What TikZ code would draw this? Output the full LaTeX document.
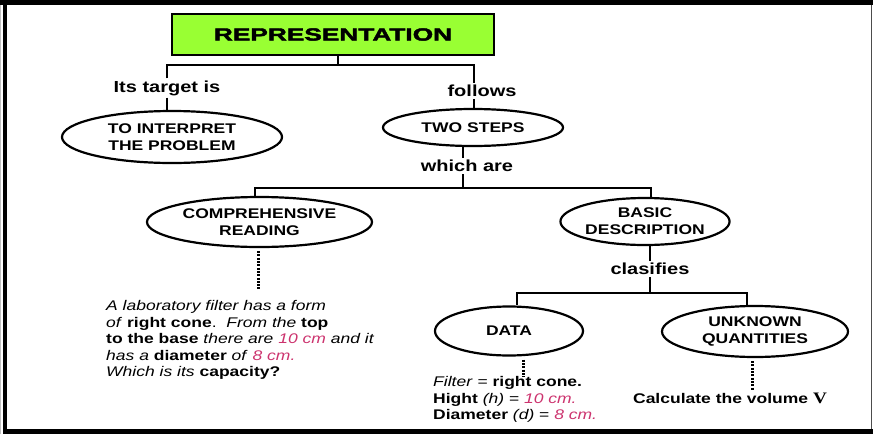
\documentclass[tikz,border=0pt]{standalone}
\usepackage{fontspec}
\setmainfont{Liberation Sans}[FakeStretch=1.25]
\newfontfamily\titlefont{Liberation Sans}[FakeStretch=1.5, FakeBold=2.5]
\newfontfamily\vfont{Liberation Serif}[FakeStretch=1.2]
\usetikzlibrary{shapes.geometric}
\definecolor{repgreen}{RGB}{153,255,51}
\definecolor{mag}{RGB}{204,51,110}
\begin{document}
\begin{tikzpicture}[x=1pt,y=-1pt,
  conn/.style={line width=2pt, black},
  dots/.style={line width=3pt, dash pattern=on 2pt off 1.3pt, black},
  ell/.style={ellipse, draw, line width=2.2pt, inner sep=0pt, align=center,
    font=\fontsize{14}{17}\selectfont\bfseries},
  lbl/.style={inner sep=2pt, font=\fontsize{16}{18}\selectfont\bfseries},
  body/.style={inner sep=0pt, align=left, anchor=west, font=\fontsize{14}{16.5}\selectfont},
  titlebox/.style={draw, line width=2pt, fill=repgreen, inner sep=0pt,
    font=\fontsize{17.5}{20}\selectfont\titlefont\bfseries}
]
\useasboundingbox (0,0) rectangle (873,434);
% frame
\draw[line width=1pt, black!70] (871.5,0) -- (871.5,434);
\draw[line width=0.8pt, black!25] (0.5,0) -- (0.5,434);
\draw[line width=4.5pt] (5,0) -- (5,434);
\draw[line width=5pt] (0,2.5) -- (873,2.5);
\draw[line width=5pt] (5,431.5) -- (873,431.5);

% nodes
\node[titlebox, minimum width=322pt, minimum height=41pt] (rep) at (333,34.5) {REPRESENTATION};
\node[lbl] (tgt) at (167,88) {Its target is};
\node[lbl] (fol) at (482,91) {follows};
\node[ell, minimum width=220pt, minimum height=52pt] (interp) at (172,137) {TO INTERPRET\\THE PROBLEM};
\node[ell, minimum width=180pt, minimum height=37pt] (two) at (473,127.5) {TWO STEPS};
\node[lbl] (wa) at (467,166) {which are};
\node[ell, minimum width=225pt, minimum height=50pt] (comp) at (259.5,222) {COMPREHENSIVE\\READING};
\node[ell, minimum width=166pt, minimum height=47pt] (basic) at (645,221.5) {BASIC\\DESCRIPTION};
\node[lbl] (cl) at (650,269) {clasifies};
\node[ell, minimum width=148pt, minimum height=49pt] (data) at (509,331) {DATA};
\node[ell, minimum width=186pt, minimum height=51pt] (unk) at (755,331.5) {UNKNOWN\\QUANTITIES};

\node[body] (prob) at (106,340) {\textit{A laboratory filter has a form}\\
\textit{of} \textbf{right cone}.\ \ \textit{From the} \textbf{top}\\
\textbf{to the base} \textit{there are} \textcolor{mag}{\textit{10 cm}} \textit{and it}\\
\textit{has a} \textbf{diameter} \textit{of} \textcolor{mag}{\textit{8 cm.}}\\
\textit{Which is its} \textbf{capacity?}};
\node[body] (dat) at (433,399.5) {\textit{Filter} = \textbf{right cone.}\\
\textbf{Hight} \textit{(h)} = \textcolor{mag}{\textit{10 cm.}}\\
\textbf{Diameter} \textit{(d)} = \textcolor{mag}{\textit{8 cm.}}};
\node[inner sep=0pt, font=\fontsize{14}{16.5}\selectfont\bfseries] (calc) at (730,398) {Calculate the volume {\vfont\bfseries\fontsize{16}{16}\selectfont V}};

% junction coordinates
\coordinate (b1M) at (338,65);
\coordinate (b1L) at (167,65);
\coordinate (b1R) at (474,65);
\coordinate (b2M) at (463,188);
\coordinate (b2L) at (255,188);
\coordinate (b2R) at (651,188);
\coordinate (b3M) at (650,293);
\coordinate (b3L) at (517,293);
\coordinate (b3R) at (747,293);
\coordinate (d1) at (258,290);
\coordinate (d2) at (523,377);
\coordinate (d3) at (752,390);

% connectors
\draw[conn] (rep.south -| b1M) -- (b1M);
\draw[conn] (tgt.north -| b1L) -- (b1L) -- (b1R) -- (fol.north -| b1R);
\draw[conn] (tgt.south -| b1L) -- (interp.north -| b1L);
\draw[conn] (fol.south -| b1R) -- (two.north -| b1R);
\draw[conn] (two.south -| b2M) -- (wa.north -| b2M);
\draw[conn] (wa.south -| b2M) -- (b2M);
\draw[conn] (comp.north -| b2L) -- (b2L) -- (b2R) -- (basic.north -| b2R);
\draw[conn] (basic.south -| b3M) -- (cl.north -| b3M);
\draw[conn] (cl.south -| b3M) -- (b3M);
\draw[conn] (data.north -| b3L) -- (b3L) -- (b3R) -- (unk.north -| b3R);
\draw[dots] ([yshift=-3pt]comp.south -| d1) -- (d1);
\draw[dots] ([yshift=-3pt]data.south -| d2) -- (d2);
\draw[dots] ([yshift=-3pt]unk.south -| d3) -- (d3);
\end{tikzpicture}
\end{document}
